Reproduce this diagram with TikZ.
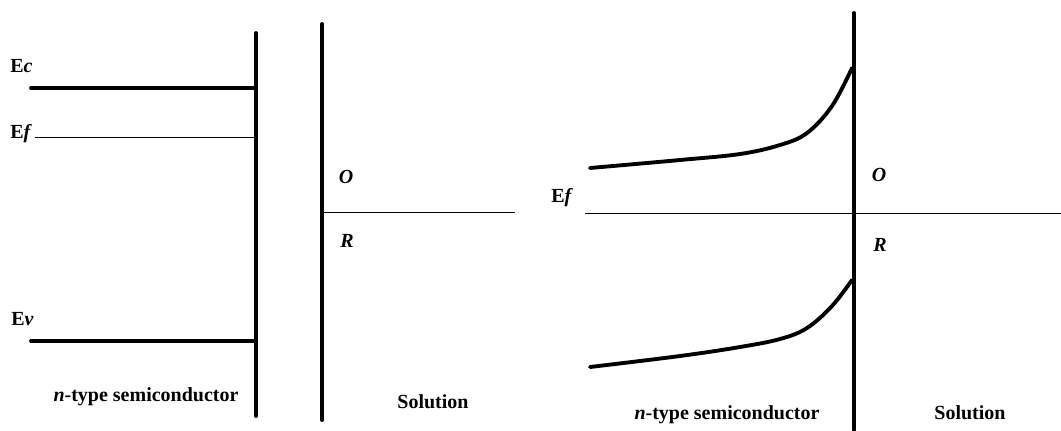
\documentclass[tikz,border=0pt]{standalone}
\usepackage{fontspec}
\setmainfont{Liberation Serif}
\begin{document}
\begin{tikzpicture}[x=0.75pt,y=-0.75pt,
  thickline/.style={line width=2.9pt,line cap=round},
  thinline/.style={line width=0.75pt},
  lbl/.style={font=\bfseries\fontsize{15}{17}\selectfont,inner sep=0pt},
  bandcurve/.style={line width=2.9pt,line cap=round,line join=round}]
\useasboundingbox (0,0) rectangle (1061,430);
% ---------- left diagram ----------
\coordinate (sTop) at (256,33);
\coordinate (sBot) at (256,416);
\coordinate (lTop) at (322,24);
\coordinate (lBot) at (322,420);
\draw[thickline] (sTop) -- (sBot);
\draw[thickline] (lTop) -- (lBot);
\coordinate (ecL) at (31,88);  \coordinate (ecR) at (256,88);
\coordinate (efL) at (35,137); \coordinate (efR) at (256,137);
\coordinate (evL) at (31,341); \coordinate (evR) at (256,341);
\draw[thickline] (ecL) -- (ecR);
\draw[thinline] (efL) -- (efR);
\draw[thickline] (evL) -- (evR);
\coordinate (redL) at (322,212); \coordinate (redR) at (515,212);
\draw[thinline] (redL) -- (redR);
\node[lbl,anchor=west] (ec) at (10,66) {E\textit{c}};
\node[lbl,anchor=west] (ef) at (10,134) {E\textit{f}};
\node[lbl,anchor=west] (ev) at (11,319) {E\textit{v}};
\node[lbl] (o1) at (346,177) {\textit{O}};
\node[lbl] (r1) at (347,241) {\textit{R}};
\node[lbl] (semi1) at (146,397) {\textit{n}-type semiconductor};
\node[lbl] (sol1) at (433,402) {Solution};
% ---------- right diagram ----------
\coordinate (iTop) at (854,13);
\coordinate (iBot) at (854,430);
\draw[thickline] (iTop) -- (iBot);
\coordinate (ef2L) at (585,213); \coordinate (ef2R) at (1061,213);
\draw[thinline] (ef2L) -- (ef2R);
\draw[bandcurve] plot[smooth,tension=0.6] coordinates
  {(590,168) (680,160) (740,154) (780,145) (807,133) (832,106) (852,68)};
\draw[bandcurve] plot[smooth,tension=0.6] coordinates
  {(590,367) (680,356) (740,347) (780,339) (807,328) (832,306) (852,280)};
\node[lbl,anchor=west] (ef2) at (551,198) {E\textit{f}};
\node[lbl] (o2) at (879,175) {\textit{O}};
\node[lbl] (r2) at (880,245) {\textit{R}};
\node[lbl] (semi2) at (727,415) {\textit{n}-type semiconductor};
\node[lbl] (sol2) at (970,413) {Solution};
\end{tikzpicture}
\end{document}
